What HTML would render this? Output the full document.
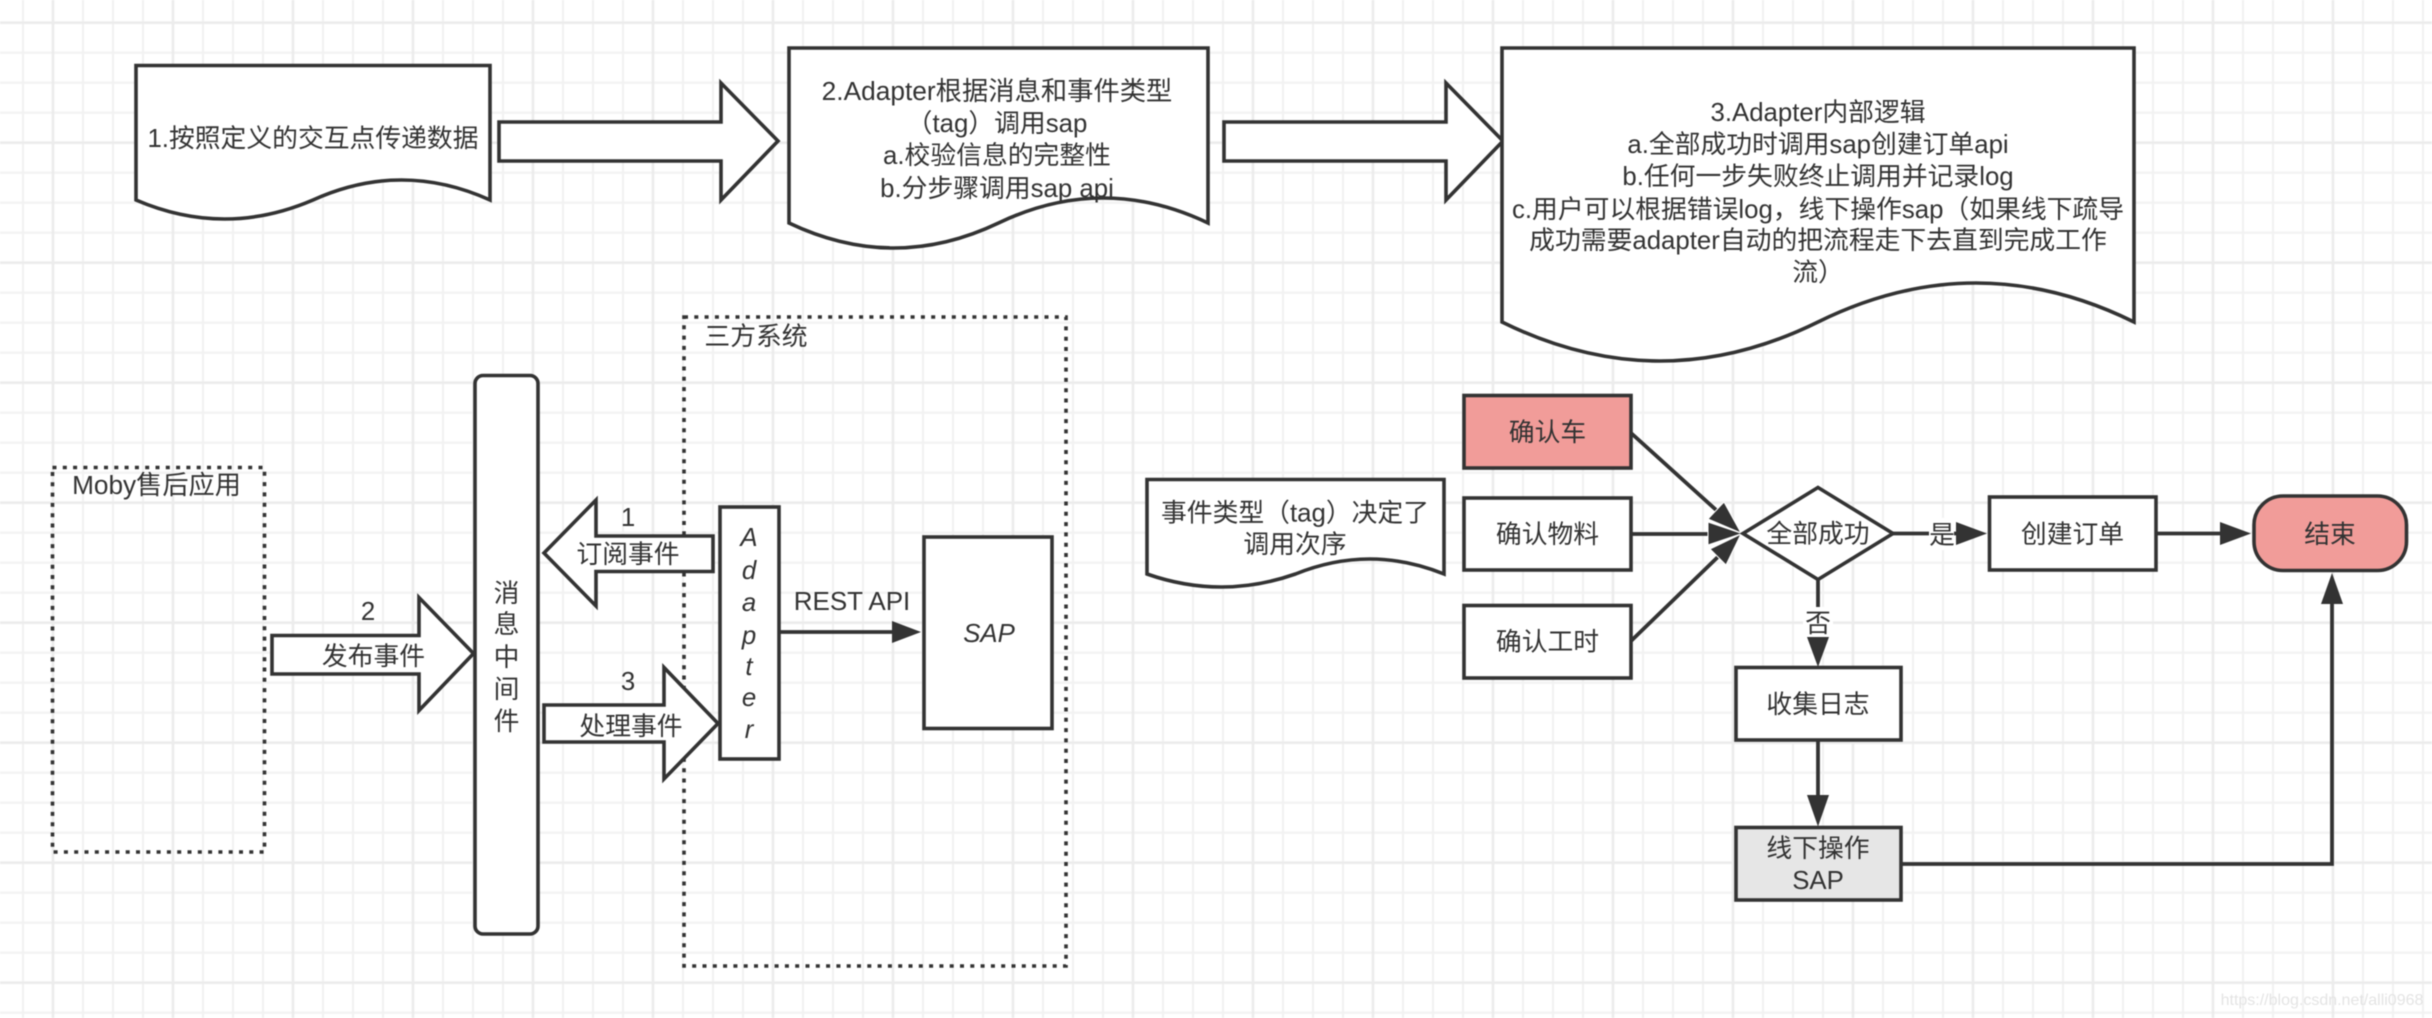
<!DOCTYPE html>
<html><head><meta charset="utf-8">
<style>
html,body{margin:0;padding:0;background:#fff;width:2432px;height:1018px;overflow:hidden}
svg{display:block;filter:blur(0.5px)}
text{font-family:"Liberation Sans","Noto Sans CJK SC",sans-serif;font-size:25.8px;fill:#333;text-anchor:middle}
.s{fill:#fff;stroke:#333;stroke-width:3.6;stroke-linejoin:miter}
.l{fill:none;stroke:#333;stroke-width:3.8}
.d{fill:none;stroke:#333;stroke-width:3.6;stroke-dasharray:4 6.3}
.h{fill:#333;stroke:none}
.i{font-style:italic}
</style></head><body>
<svg width="2432" height="1018" viewBox="0 0 2432 1018" xmlns="http://www.w3.org/2000/svg">
<defs>
<pattern id="minor" width="30" height="30" patternUnits="userSpaceOnUse" x="8" y="7.7">
<path d="M15 0V30M0 15H30" stroke="#f2f2f2" stroke-width="2.2" fill="none"/>
</pattern>
<pattern id="major" width="120" height="120" patternUnits="userSpaceOnUse" x="-7" y="-37.3">
<path d="M60 0V120M0 60H120" stroke="#ececec" stroke-width="2.6" fill="none"/>
</pattern>
</defs>
<rect width="2432" height="1018" fill="#fff"/>
<rect width="2432" height="1018" fill="url(#minor)"/>
<rect width="2432" height="1018" fill="url(#major)"/>

<!-- Top row -->
<path class="s" d="M136 65.500H490V200Q401.500 160 313 200Q224.500 238 136 200Z"/>
<text x="313" y="147">1.按照定义的交互点传递数据</text>
<path class="s" d="M499 122H721V83L778 141L721 200V161H499Z"/>

<path class="s" d="M789 48H1208V223Q1103 173 998.500 223Q893.800 273 789 223Z"/>
<text x="997" y="100" style="font-size:26.300px">2.Adapter根据消息和事件类型</text>
<text x="997" y="132">（tag）调用sap</text>
<text x="997" y="164">a.校验信息的完整性</text>
<text x="997" y="197">b.分步骤调用sap api</text>
<path class="s" d="M1224 122H1446V83L1503 141L1446 200V161H1224Z"/>

<path class="s" d="M1502 48H2134V322Q1976 244 1818 322Q1660 400 1502 322Z"/>
<text x="1818" y="121">3.Adapter内部逻辑</text>
<text x="1818" y="153">a.全部成功时调用sap创建订单api</text>
<text x="1818" y="185">b.任何一步失败终止调用并记录log</text>
<text x="1818" y="218">c.用户可以根据错误log，线下操作sap（如果线下疏导</text>
<text x="1818" y="249">成功需要adapter自动的把流程走下去直到完成工作</text>
<text x="1818" y="281">流）</text>

<!-- Left diagram -->
<rect class="d" x="52.500" y="467.500" width="212" height="384.500"/>
<text x="156.500" y="494" style="font-size:26.200px">Moby售后应用</text>
<rect class="d" x="684" y="317" width="382" height="649"/>
<text x="756" y="345">三方系统</text>

<rect class="s" x="475" y="375.500" width="63" height="558.500" rx="8" ry="8"/>
<text x="506.500" y="602">消</text>
<text x="506.500" y="633">息</text>
<text x="506.500" y="666">中</text>
<text x="506.500" y="698">间</text>
<text x="506.500" y="730">件</text>

<path class="s" d="M713 536H596V500L544 553L596 606V571.500H713Z"/>
<text x="628" y="526">1</text>
<text x="628" y="563">订阅事件</text>

<path class="s" d="M272 635.500H419V597.500L473.500 653.500L419 710.500V674H272Z"/>
<text x="368" y="620">2</text>
<text x="373.500" y="665">发布事件</text>

<path class="s" d="M544 705H664V667.500L718 723.500L664 779V742H544Z"/>
<text x="628" y="690">3</text>
<text x="631" y="735">处理事件</text>

<rect class="s" x="720" y="507" width="59" height="252"/>
<text class="i" x="749" y="546">A</text>
<text class="i" x="749" y="579">d</text>
<text class="i" x="749" y="611">a</text>
<text class="i" x="749" y="644">p</text>
<text class="i" x="749" y="675">t</text>
<text class="i" x="749" y="706">e</text>
<text class="i" x="749" y="738">r</text>

<path class="l" d="M780 632H895"/>
<polygon class="h" points="921,632 892,621 892,643"/>
<text x="852" y="610" style="font-size:26px">REST API</text>
<rect class="s" x="924" y="537" width="128" height="191.500"/>
<text class="i" x="989" y="642">SAP</text>

<!-- Right diagram -->
<path class="s" d="M1147 479.500H1444V574Q1369.800 544 1295.500 574Q1221.300 600 1147 574Z"/>
<text x="1295" y="521.500">事件类型（tag）决定了</text>
<text x="1295" y="553">调用次序</text>

<path class="l" d="M1631 433L1725 518"/>
<path class="l" d="M1631 534H1715"/>
<path class="l" d="M1631 641L1723 552"/>
<polygon class="h" style="stroke:#fff;stroke-width:1" points="1741,533 1708,519 1724,502"/>
<polygon class="h" style="stroke:#fff;stroke-width:1" points="1741,534 1726,565 1710,549"/>
<polygon class="h" style="stroke:#fff;stroke-width:1" points="1742,533.500 1708,522 1708,545"/>

<rect class="s" x="1464" y="395.500" width="167" height="72.500" style="fill:#f19c99"/>
<text x="1547.500" y="441">确认车</text>
<rect class="s" x="1464" y="498" width="167" height="72"/>
<text x="1547.500" y="543">确认物料</text>
<rect class="s" x="1464" y="605.500" width="167" height="72.500"/>
<text x="1547.500" y="650.500">确认工时</text>

<polygon class="s" points="1818,487.500 1893,533.500 1818,579.500 1743,533.500"/>
<text x="1818" y="542.500">全部成功</text>

<path class="l" d="M1893 533.500H1960"/>
<polygon class="h" points="1987,533.500 1956,522 1956,545"/>
<rect x="1929" y="518" width="25" height="32" fill="#fff"/>
<text x="1942" y="543.500">是</text>

<rect class="s" x="1989.500" y="497" width="166.500" height="73"/>
<text x="2072.500" y="543">创建订单</text>
<path class="l" d="M2156 533.500H2225"/>
<polygon class="h" points="2251,533.500 2220,522 2220,545"/>
<rect class="s" x="2254" y="496" width="152.500" height="74.500" rx="29" ry="29" style="fill:#f19c99"/>
<text x="2330" y="543">结束</text>

<path class="l" d="M1818 580V642"/>
<rect x="1803" y="607" width="30" height="32" fill="#fff"/>
<text x="1818" y="632">否</text>
<polygon class="h" points="1818,667 1807,637 1829,637"/>

<rect class="s" x="1736" y="667.500" width="165" height="72.500"/>
<text x="1818" y="713">收集日志</text>

<path class="l" d="M1818 740V800"/>
<polygon class="h" points="1818,826.500 1807,795 1829,795"/>

<rect class="s" x="1736" y="827.500" width="165" height="72.500" style="fill:#e6e6e6"/>
<text x="1818" y="857">线下操作</text>
<text x="1818" y="889">SAP</text>

<path class="l" d="M1901 864H2332V600"/>
<polygon class="h" points="2332,573 2321,604 2343,604"/>

<text x="2322" y="1005" style="font-size:16px;fill:#e4e4e4">https://blog.csdn.net/alli0968</text>
</svg>
</body></html>
